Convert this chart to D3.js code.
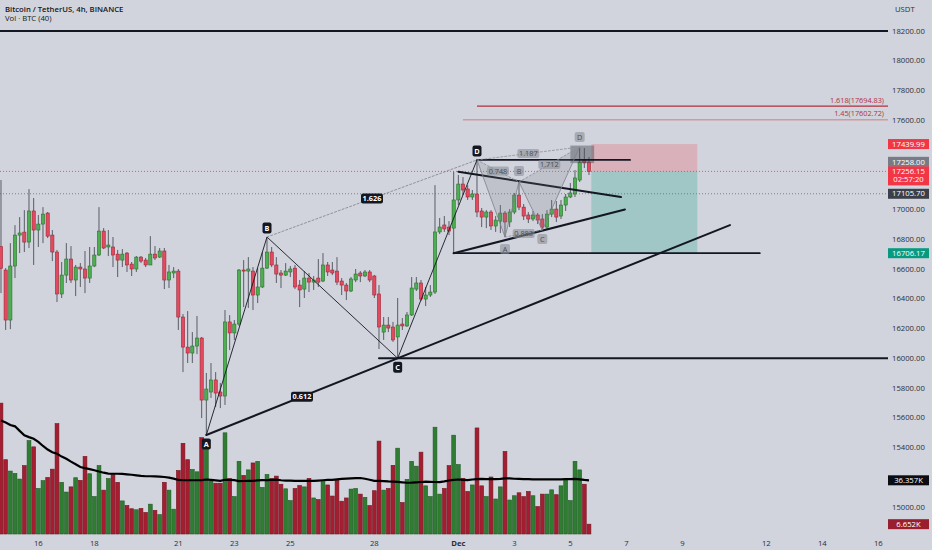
<!DOCTYPE html>
<html><head><meta charset="utf-8">
<script src="https://cdn.jsdelivr.net/npm/d3@7/dist/d3.min.js"></script>
<style>
html,body{margin:0;padding:0;background:#d1d4dc;}
svg{display:block;font-family:"Open Sans",Roboto,sans-serif;}
</style></head><body>
<svg id="c" width="932" height="550"></svg>
<script>
// ---------------- DATA ----------------
const title = "Bitcoin / TetherUS, 4h, BINANCE";
const volTitle = "Vol · BTC (40)";
const firstCandle = Date.UTC(2022,10,14,16); // BTCUSDT 4h candles
const open  = [16750,16593,16257,16620,16828,16848,16781,16990,16862,16902,16976,16828,16714,16432,16559,16667,16526,16613,16600,16539,16620,16694,16855,16748,16748,16700,16660,16707,16633,16600,16680,16660,16627,16700,16680,16721,16526,16573,16586,16277,16075,16035,16082,16136,15719,15773,15854,15773,15746,16244,16170,16230,16593,16586,16586,16425,16479,16606,16714,16627,16573,16559,16580,16606,16492,16465,16539,16512,16539,16519,16627,16593,16586,16519,16492,16452,16526,16573,16553,16580,16553,16432,16176,16223,16210,16143,16230,16217,16291,16465,16506,16398,16425,16445,16849,16896,16882,16875,17064,17171,17138,17084,17104,16990,16949,16983,16889,16922,16976,16916,16983,17097,17016,16963,16936,16963,16936,16882,16969,17003,16956,17030,17084,17104,17198,17333,17319];
const high  = [17198,16606,16774,16895,16949,16996,17137,17077,16963,17016,16983,16862,16728,16647,16774,16754,16627,16640,16721,16748,16748,17016,16875,16862,16815,16728,16734,16714,16647,16687,16687,16674,16821,16754,16741,16741,16627,16613,16600,16297,16317,16176,16284,16143,15901,15968,15907,15834,16324,16290,16257,16600,16660,16680,16613,16606,16714,16815,16748,16680,16593,16640,16620,16627,16526,16586,16573,16553,16667,16707,16647,16647,16680,16539,16506,16546,16600,16586,16593,16593,16560,16492,16277,16277,16244,16405,16270,16311,16546,16546,16526,16479,16492,17164,16943,16956,16922,17254,17232,17218,17164,17131,17333,17010,16996,16996,16956,17030,16990,17003,17111,17185,17037,16983,16990,16976,16969,16996,17064,17057,17064,17104,17178,17265,17420,17413,17353];
const low   = [16438,16190,16196,16539,16707,16714,16741,16627,16748,16774,16808,16653,16378,16405,16506,16506,16418,16479,16438,16506,16613,16687,16734,16687,16613,16546,16613,16580,16553,16580,16640,16613,16627,16660,16674,16465,16472,16539,16190,15907,15968,15968,16028,15598,15484,15733,15672,15665,15686,16055,16123,16217,16344,16338,16324,16371,16472,16600,16613,16506,16472,16553,16546,16465,16344,16405,16445,16459,16479,16512,16553,16559,16492,16425,16391,16445,16512,16512,16546,16512,16405,16062,16123,16176,16110,16000,16190,16210,16284,16452,16385,16351,16412,16432,16835,16849,16828,16706,17030,17097,17064,17064,16949,16882,16875,16862,16849,16842,16815,16882,16969,16996,16929,16909,16922,16902,16862,16869,16949,16916,16936,16990,17077,17084,17185,17279,17232];
const close = [16604,16257,16620,16828,16842,16781,16990,16862,16902,16969,16821,16714,16432,16559,16667,16526,16613,16600,16539,16620,16694,16855,16741,16761,16694,16660,16700,16627,16600,16680,16653,16627,16700,16674,16721,16526,16580,16586,16277,16075,16035,16082,16136,15719,15793,15854,15766,15746,16244,16170,16230,16593,16586,16600,16425,16479,16606,16714,16627,16566,16559,16586,16600,16479,16459,16539,16512,16526,16512,16627,16580,16573,16512,16492,16452,16533,16566,16553,16580,16526,16425,16210,16223,16203,16123,16223,16217,16291,16472,16506,16398,16425,16445,16849,16882,16869,16855,17064,17171,17131,17084,17104,16983,16949,16983,16889,16929,16976,16916,16983,17097,17016,16956,16936,16963,16929,16882,16969,17003,16949,17030,17084,17111,17212,17319,17313,17256.15];
// volume in thousands of BTC
const volume = [88.6,50.3,42.6,41.0,37.2,46.3,63.2,59.0,30.8,36.1,38.3,43.9,74.7,35.0,28.4,31.9,38.1,36.3,52.5,40.8,25.3,46.3,29.7,37.5,40.3,35.0,22.4,19.3,17.1,16.4,17.3,14.6,20.2,16.0,13.1,35.0,29.7,16.8,43.0,61.4,50.3,43.7,42.1,65.2,62.5,35.9,34.4,34.4,68.5,37.5,25.3,49.2,39.7,43.4,48.1,49.2,31.5,40.3,37.5,39.2,33.7,30.6,22.6,30.8,32.8,31.9,37.7,24.4,23.3,35.5,33.2,25.7,36.3,22.2,24.4,30.4,30.8,27.0,24.8,19.3,29.3,62.9,29.7,30.8,46.5,58.1,21.3,37.0,49.2,45.9,55.4,32.6,25.3,72.3,27.0,30.8,46.3,66.9,47.0,37.7,28.8,33.2,71.8,32.6,25.3,38.6,23.7,31.9,55.9,23.0,25.9,27.9,25.3,28.8,25.9,18.6,27.0,27.0,29.9,26.6,32.6,37.0,22.6,49.2,43.4,33.7,6.652];
// 40-period volume moving average, as shown
const volMA = [76.9,75.5,73.8,72.9,69.8,66.8,65.6,64.5,62.4,59.6,57.2,55.4,54.3,52.4,50.9,49.0,47.2,45.4,44.6,43.9,43.2,42.3,41.5,40.9,40.8,40.8,40.7,40.4,40.1,39.7,39.3,39.1,39.1,39.0,38.9,38.6,38.2,37.5,36.6,36.4,36.4,36.4,36.4,36.5,36.9,36.6,36.3,36.0,36.7,36.7,36.5,35.8,35.9,36.0,36.0,36.3,36.5,36.4,36.7,36.8,36.4,36.2,36.1,36.0,36.0,36.0,36.0,36.0,36.2,36.4,36.6,36.7,37.0,37.3,37.5,37.7,37.8,37.9,37.4,36.7,36.0,36.0,35.8,35.6,35.5,35.3,35.0,34.7,34.8,35.0,35.2,35.4,35.3,35.2,35.1,35.6,36.2,36.7,36.9,36.7,36.5,36.9,37.2,37.3,37.2,37.1,37.1,37.3,37.7,37.6,37.4,37.3,37.2,37.1,37.0,37.0,37.0,37.0,37.0,37.0,37.0,37.1,37.2,37.3,37.0,36.6,36.357];
const priceTicks = [15000,15200,15400,15600,15800,16000,16200,16400,16600,16800,17000,17200,17400,17600,17800,18000,18200];
const dateTicks = ["2022-11-16","2022-11-18","2022-11-21","2022-11-23","2022-11-25","2022-11-28","2022-12-01","2022-12-03","2022-12-05","2022-12-07","2022-12-09","2022-12-12","2022-12-14","2022-12-16"];
// drawings: candle index + price
const abcdNames = ["A","B","C","D"];
const abcdIdx   = [44,57,85,102];
const abcdPrice = [15484,16815,16000,17333];
const harmNames = ["X","A","B","C","D"];
const harmIdx   = [102,108,111,116,124];
const harmPrice = [17333,16815,17185,16862,17420];
const harmRatios = [["X","B","0.748"],["A","C","0.883"],["B","D","1.712"],["X","D","1.187"]];
const trendEnd = [156.2,16895];
const triUpper = [[98,17254],[132.85,17084]];
const triLower = [[97,16706],[133.7,17000]];
const supportPrice = 16706.17, supportFrom = 97, supportTo = 162.6;
const level16000 = 16000, level16000From = 81;
const level18200 = 18200;
const xLevelTo = 134.8;
const fibs = [{r:"1.618",p:17694.83,from:102},{r:"1.45",p:17602.72,from:99}];
const position = {from:126.5,to:149.2,entry:17258.00,stop:17439.99,target:16706.17};
const dZone = {from:122,to:127.1,top:17430,bottom:17312};
const lastPrice = 17256.15, countdown = "02:57:20", prevRef = 17105.70;
const lastVol = 6.652, lastVolMA = 36.357;

// ---------------- CHART ----------------
const svg = d3.select("#c");
const plotR = 888, volBase = 534;
const x = d3.scaleUtc().domain([new Date(Date.UTC(2022,10,16)), new Date(Date.UTC(2022,11,16))]).range([38.33,878.33]);
const y = d3.scaleLinear().domain([15000,18200]).range([507,31]);
const yv = d3.scaleLinear().domain([0,36.357]).range([volBase,480.3]);
const T = i => new Date(firstCandle + i*4*3600e3);
const X = i => x(T(i));
const FS = 7.7;

svg.append("rect").attr("width",932).attr("height",550).attr("fill","#d1d4dc");
svg.append("defs").append("clipPath").attr("id","plot").append("rect").attr("x",0).attr("y",0).attr("width",plotR).attr("height",volBase+1);
const g = svg.append("g").attr("clip-path","url(#plot)");

const candles = open.map((o,i)=>({i,o,h:high[i],l:low[i],c:close[i],v:volume[i],ma:volMA[i],up:close[i]>=o}));

// volume
g.append("g").selectAll("rect").data(candles).join("rect")
  .attr("x",d=>X(d.i)-1.9).attr("width",3.8)
  .attr("y",d=>yv(d.v)).attr("height",d=>volBase-yv(d.v))
  .attr("fill",d=>d.up?"#2f7d32":"#a51d30")
  .attr("stroke",d=>d.up?"#1e5a22":"#72141f").attr("stroke-width",0.6);
g.append("path").datum(candles)
  .attr("d",d3.line().x(d=>X(d.i)).y(d=>yv(d.ma)))
  .attr("fill","none").attr("stroke","#000").attr("stroke-width",2.2);

// price lines
g.append("line").attr("x1",0).attr("x2",plotR).attr("y1",y(lastPrice)).attr("y2",y(lastPrice))
  .attr("stroke","#f23645").attr("stroke-width",0.8).attr("stroke-dasharray","1,2");
g.append("line").attr("x1",0).attr("x2",plotR).attr("y1",y(prevRef)).attr("y2",y(prevRef))
  .attr("stroke","#6a6d78").attr("stroke-width",0.8).attr("stroke-dasharray","1,2");

// candles
const cg = g.append("g");
cg.selectAll("line").data(candles).join("line")
  .attr("x1",d=>X(d.i)).attr("x2",d=>X(d.i)).attr("y1",d=>y(d.h)).attr("y2",d=>y(d.l))
  .attr("stroke","#5a5d66").attr("stroke-width",1);
cg.selectAll("rect").data(candles).join("rect")
  .attr("x",d=>X(d.i)-1.6).attr("width",3.2)
  .attr("y",d=>y(Math.max(d.o,d.c))).attr("height",d=>Math.max(1,Math.abs(y(d.o)-y(d.c))))
  .attr("fill",d=>d.up?"#4caf50":"#e24b5f")
  .attr("stroke",d=>d.up?"#2b6e2e":"#9e2638").attr("stroke-width",0.6);

// position tool
const pos = g.append("g");
pos.append("rect").attr("x",X(position.from)).attr("width",X(position.to)-X(position.from))
  .attr("y",y(position.stop)).attr("height",y(position.entry)-y(position.stop)).attr("fill","rgba(242,54,69,0.22)");
pos.append("rect").attr("x",X(position.from)).attr("width",X(position.to)-X(position.from))
  .attr("y",y(position.entry)).attr("height",y(position.target)-y(position.entry)).attr("fill","rgba(8,153,129,0.24)");
g.append("rect").attr("x",X(dZone.from)).attr("width",X(dZone.to)-X(dZone.from))
  .attr("y",y(dZone.top)).attr("height",y(dZone.bottom)-y(dZone.top)).attr("fill","rgba(70,75,85,0.45)");

// fib lines
fibs.forEach((f,k)=>{
  g.append("line").attr("x1",X(f.from)).attr("x2",plotR).attr("y1",y(f.p)).attr("y2",y(f.p))
   .attr("stroke",k===0?"#b0303d":"#cf6470").attr("stroke-width",k===0?1.2:0.8);
  g.append("text").attr("x",plotR-4).attr("y",y(f.p)-3.5).attr("text-anchor","end")
   .attr("font-size",7.3).attr("fill","#b0303d").text(`${f.r}(${f.p.toFixed(2)})`);
});

// helper
const P = (i,p)=>[X(i),y(p)];
function seg(a,b,stroke,w,dash){
  const l=g.append("line").attr("x1",a[0]).attr("y1",a[1]).attr("x2",b[0]).attr("y2",b[1])
    .attr("stroke",stroke).attr("stroke-width",w).attr("stroke-linecap","round");
  if(dash) l.attr("stroke-dasharray",dash);
  return l;
}

// horizontal levels
seg([0,y(level18200)],[plotR,y(level18200)],"#131722",2);
seg(P(level16000From,level16000),[plotR,y(level16000)],"#131722",2);
seg(P(supportFrom,supportPrice),P(supportTo,supportPrice),"#131722",1.8);
seg(P(abcdIdx[3],abcdPrice[3]),P(xLevelTo,abcdPrice[3]),"#131722",1.8);
// triangle
seg(P(...triUpper[0]),P(...triUpper[1]),"#131722",2);
seg(P(...triLower[0]),P(...triLower[1]),"#131722",2);
// trend line A -> C extended
const A = P(abcdIdx[0],abcdPrice[0]);
seg(A,P(...trendEnd),"#131722",2);

// harmonic pattern
const H = {}; harmNames.forEach((n,k)=>H[n]=P(harmIdx[k],harmPrice[k]));
g.append("path").attr("d",`M${H.X}L${H.A}L${H.B}Z`).attr("fill","rgba(120,123,134,0.2)");
g.append("path").attr("d",`M${H.B}L${H.C}L${H.D}Z`).attr("fill","rgba(120,123,134,0.2)");
g.append("path").attr("d",`M${H.X}L${H.A}L${H.B}L${H.C}L${H.D}`).attr("fill","none").attr("stroke","#7d808a").attr("stroke-width",0.8);
harmRatios.forEach(r=>seg(H[r[0]],H[r[1]],"#8a8d96",0.8,"2,2"));

// ABCD pattern
const Pt = abcdIdx.map((i,k)=>P(i,abcdPrice[k]));
g.append("path").attr("d",`M${Pt[0]}L${Pt[1]}L${Pt[2]}L${Pt[3]}`).attr("fill","none").attr("stroke","#131722").attr("stroke-width",0.9);
seg(Pt[1],Pt[3],"#7d808a",0.8,"2,2");

// labels
function tag(cx,cy,txt,bg,fg,w,h,bold){
  g.append("rect").attr("x",cx-w/2).attr("y",cy-h/2).attr("width",w).attr("height",h).attr("rx",2).attr("fill",bg);
  g.append("text").attr("x",cx).attr("y",cy+2.6).attr("text-anchor","middle").attr("font-size",7.3)
    .attr("font-weight",bold?700:400).attr("fill",fg).text(txt);
}
const off = [9,-9,9,-9];
abcdNames.forEach((n,k)=>tag(Pt[k][0],Pt[k][1]+off[k],n,"#131722","#fff",9,11,true));
const mid=(a,b)=>[(a[0]+b[0])/2,(a[1]+b[1])/2];
tag(...mid(Pt[0],Pt[2]),"0.612","#131722","#fff",22,10,true);
tag(...mid(Pt[1],Pt[3]),"1.626","#131722","#fff",22,10,true);
harmRatios.forEach(r=>tag(...mid(H[r[0]],H[r[1]]),r[2],"rgba(140,143,152,0.6)","#4a4d57",22,9,false));
[["A",12],["B",-11],["C",9],["D",-10]].forEach(([n,o])=>tag(H[n][0],H[n][1]+o,n,"rgba(140,143,152,0.6)","#4a4d57",10,10,false));

// ---------------- AXES ----------------
const badges = [
  {y:y(position.stop),t:[position.stop.toFixed(2)],bg:"#f23645"},
  {y:y(position.entry)-9.3,t:[position.entry.toFixed(2)],bg:"#787b86"},
  {y:y(lastPrice),t:[lastPrice.toFixed(2),countdown],bg:"#f23645"},
  {y:y(prevRef),t:[prevRef.toFixed(2)],bg:"#3b3f4a"},
  {y:y(position.target),t:[position.target.toFixed(2)],bg:"#089981"},
  {y:yv(lastVolMA),t:[lastVolMA.toFixed(3)+"K"],bg:"#0b0d12"},
  {y:yv(lastVol),t:[lastVol.toFixed(3)+"K"],bg:"#9a1f2e"}
];
// tick labels covered by a badge are not drawn (as the price scale does)
const covered = v => badges.some(b=>{const top=b.y-5, bot=top+(b.t.length===1?10:19); return y(v)+3>top && y(v)-3<bot;});
const ax = svg.append("g").attr("font-size",FS).attr("fill","#2a2e39");
ax.selectAll("text.pt").data(priceTicks.filter(v=>!covered(v))).join("text").attr("class","pt")
  .attr("x",892).attr("y",d=>y(d)+2.7).text(d=>d.toFixed(2));
ax.append("text").attr("x",895).attr("y",11.5).text("USDT");
ax.selectAll("text.dt").data(dateTicks.map(s=>new Date(s+"T00:00:00Z"))).join("text").attr("class","dt")
  .attr("x",d=>x(d)).attr("y",546).attr("text-anchor","middle")
  .attr("font-weight",d=>d.getUTCDate()===1?700:400)
  .text(d=>d.getUTCDate()===1?d3.utcFormat("%b")(d):d.getUTCDate());

badges.forEach(b=>{
  const h = b.t.length===1?10:19;
  ax.append("rect").attr("x",888).attr("y",b.y-5).attr("width",41).attr("height",h).attr("fill",b.bg);
  b.t.forEach((s,k)=>ax.append("text").attr("x",908.5).attr("y",b.y+2.7+k*8.2).attr("text-anchor","middle").attr("fill","#fff").text(s));
});

// legend
svg.append("text").attr("x",5).attr("y",11.5).attr("font-size",FS).attr("font-weight",600).attr("fill","#131722").text(title);
svg.append("text").attr("x",5).attr("y",21).attr("font-size",FS).attr("fill","#131722").text(volTitle);
</script>
</body></html>
